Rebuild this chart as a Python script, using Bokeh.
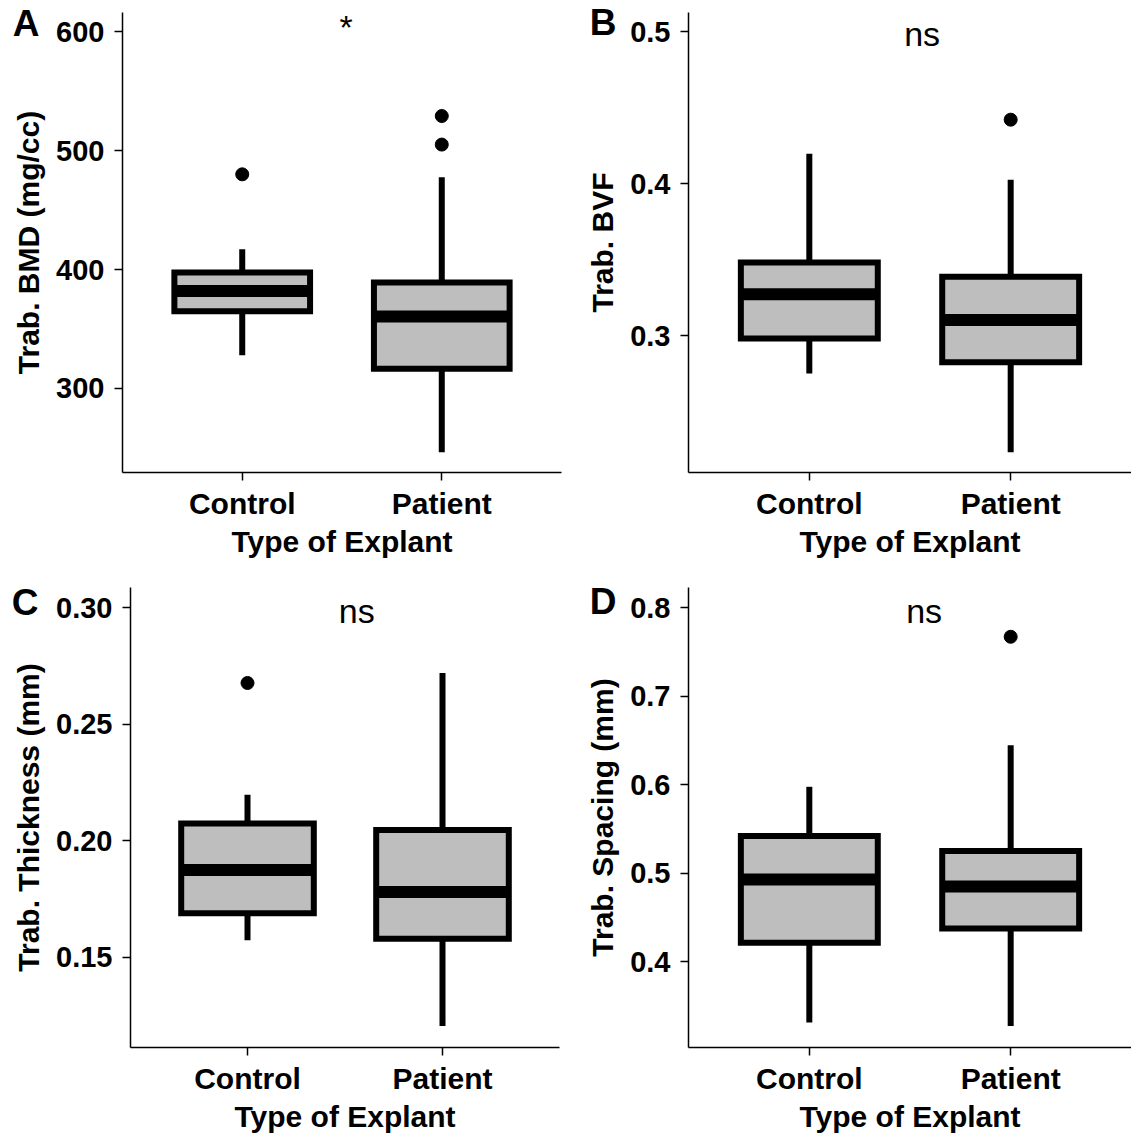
from bokeh.plotting import figure
from bokeh.models import Range1d, FixedTicker, Label, ColumnDataSource, GridBox, Div
from bokeh.layouts import column, row
from bokeh.embed import file_html
from bokeh.resources import INLINE

categories = ["Control", "Patient"]
x_title = "Type of Explant"
panel_letters = ["A", "B", "C", "D"]

# Panel A: Trabecular BMD
bmd_q1 = [365.0, 316.5]
bmd_med = [382.0, 360.5]
bmd_q3 = [397.5, 389.0]
bmd_lo = [328.0, 246.5]
bmd_hi = [417.0, 477.6]
bmd_out = [[480.0], [529.0, 505.0]]
bmd_ticks = [300, 400, 500, 600]
bmd_tick_labels = ["300", "400", "500", "600"]

# Panel B: Trabecular BVF
bvf_q1 = [0.298, 0.2824]
bvf_med = [0.3272, 0.3103]
bvf_q3 = [0.348, 0.3386]
bvf_lo = [0.275, 0.2232]
bvf_hi = [0.4195, 0.4024]
bvf_out = [[], [0.442]]
bvf_ticks = [0.3, 0.4, 0.5]
bvf_tick_labels = ["0.3", "0.4", "0.5"]

# Panel C: Trabecular thickness
th_q1 = [0.1688, 0.1579]
th_med = [0.1874, 0.178]
th_q3 = [0.2074, 0.2046]
th_lo = [0.1573, 0.1204]
th_hi = [0.2197, 0.272]
th_out = [[0.2677], []]
th_ticks = [0.15, 0.20, 0.25, 0.30]
th_tick_labels = ["0.15", "0.20", "0.25", "0.30"]

# Panel D: Trabecular spacing
sp_q1 = [0.4214, 0.4375]
sp_med = [0.4928, 0.4849]
sp_q3 = [0.542, 0.525]
sp_lo = [0.3312, 0.3274]
sp_hi = [0.5977, 0.6447]
sp_out = [[], [0.7673]]
sp_ticks = [0.4, 0.5, 0.6, 0.7, 0.8]
sp_tick_labels = ["0.4", "0.5", "0.6", "0.7", "0.8"]

FONT = "Liberation Sans"
BOX_W = 0.68


def panel(ylabel, q1, med, q3, lo, hi, outs, ticks, tick_labels,
          yr, sig, sig_x, sig_y, width, height, bl, br, bt, bb):
    p = figure(width=width, height=height, output_backend="svg",
               toolbar_location=None, x_range=Range1d(0.4, 2.6),
               y_range=Range1d(*yr),
               min_border_left=bl, min_border_right=br,
               min_border_top=bt, min_border_bottom=bb)
    pos = [i + 1 for i in range(len(categories))]
    src = ColumnDataSource(dict(x=pos, q1=q1, med=med, q3=q3, lo=lo, hi=hi,
                                x0=[v - BOX_W / 2 for v in pos],
                                x1=[v + BOX_W / 2 for v in pos]))
    # whiskers
    p.segment(x0="x", y0="q3", x1="x", y1="hi", source=src,
              line_color="black", line_width=6, line_cap="butt")
    p.segment(x0="x", y0="q1", x1="x", y1="lo", source=src,
              line_color="black", line_width=6, line_cap="butt")
    # box
    p.vbar(x="x", width=BOX_W, bottom="q1", top="q3", source=src,
           fill_color="#BEBEBE", line_color="black", line_width=6,
           line_join="miter")
    # median
    p.segment(x0="x0", y0="med", x1="x1", y1="med", source=src,
              line_color="black", line_width=12, line_cap="butt")
    # outliers
    ox, oy = [], []
    for i, vals in enumerate(outs):
        for v in vals:
            ox.append(pos[i])
            oy.append(v)
    p.scatter(ox, oy, size=13, color="black")

    # significance label
    p.add_layout(Label(x=sig_x, y=sig_y, text=sig, text_font=FONT,
                       text_font_size="34px", text_align="center",
                       text_baseline="middle", text_color="black"))

    p.xgrid.visible = False
    p.ygrid.visible = False
    p.outline_line_color = None
    p.background_fill_color = "white"
    p.border_fill_color = "white"

    p.xaxis.ticker = FixedTicker(ticks=pos)
    p.xaxis.major_label_overrides = {pos[i]: categories[i] for i in range(len(pos))}
    p.xaxis.axis_label = x_title
    p.yaxis.ticker = FixedTicker(ticks=ticks)
    p.yaxis.major_label_overrides = {ticks[i]: tick_labels[i] for i in range(len(ticks))}
    p.yaxis.axis_label = ylabel

    for ax in (p.xaxis[0], p.yaxis[0]):
        ax.axis_line_color = "black"
        ax.axis_line_width = 1.5
        ax.major_tick_line_color = "black"
        ax.major_tick_line_width = 1.5
        ax.major_tick_in = 0
        ax.major_tick_out = 8
        ax.minor_tick_line_color = None
        ax.major_label_text_font = FONT
        ax.major_label_text_font_style = "bold"
        ax.major_label_text_color = "black"
        ax.axis_label_text_font = FONT
        ax.axis_label_text_font_style = "bold"
        ax.axis_label_text_color = "black"
        ax.axis_label_text_font_size = "30px"
    p.xaxis.major_label_text_font_size = "30px"
    p.yaxis.major_label_text_font_size = "29px"
    p.xaxis.major_label_standoff = 6
    p.yaxis.major_label_standoff = 10
    p.xaxis.axis_label_standoff = 2
    p.yaxis.axis_label_standoff = 8
    return p


def with_letter(fig, letter, top, left):
    html = ('<span style="font-family:\'Liberation Sans\';font-weight:bold;'
            'font-size:37px;line-height:40px;color:black;">%s</span>' % letter)
    d = Div(text=html, width=40, height=40, align="start",
            margin=(top, 0, 0, left),
            styles={"text-align": "center", "line-height": "40px",
                    "font-size": "37px"})
    return GridBox(children=[(fig, 0, 0), (d, 0, 0)], spacing=0)


pa = panel("Trab. BMD (mg/cc)", bmd_q1, bmd_med, bmd_q3, bmd_lo, bmd_hi,
           bmd_out, bmd_ticks, bmd_tick_labels, (229.4, 616.0), "*", 1.52, 604.0,
           565, 567, 122, 4, 12, 95)
pb = panel("Trab. BVF", bvf_q1, bvf_med, bvf_q3, bvf_lo, bvf_hi,
           bvf_out, bvf_ticks, bvf_tick_labels, (0.2099, 0.5125), "ns", 1.56, 0.4985,
           566, 567, 123, 0, 12, 95)
pc = panel("Trab. Thickness (mm)", th_q1, th_med, th_q3, th_lo, th_hi,
           th_out, th_ticks, th_tick_labels, (0.1112, 0.3087), "ns", 1.56, 0.2985,
           565, 568, 130, 6, 20, 87)
pd = panel("Trab. Spacing (mm)", sp_q1, sp_med, sp_q3, sp_lo, sp_hi,
           sp_out, sp_ticks, sp_tick_labels, (0.303, 0.823), "ns", 1.57, 0.797,
           566, 568, 123, 0, 20, 87)

ga = with_letter(pa, panel_letters[0], 4, 6)
gb = with_letter(pb, panel_letters[1], 3, 18)
gc = with_letter(pc, panel_letters[2], 16, 5)
gd = with_letter(pd, panel_letters[3], 15, 18)

layout = column(row(ga, gb, spacing=0), row(gc, gd, spacing=0), spacing=0)

open("out.html", "w").write(file_html(layout, INLINE))
